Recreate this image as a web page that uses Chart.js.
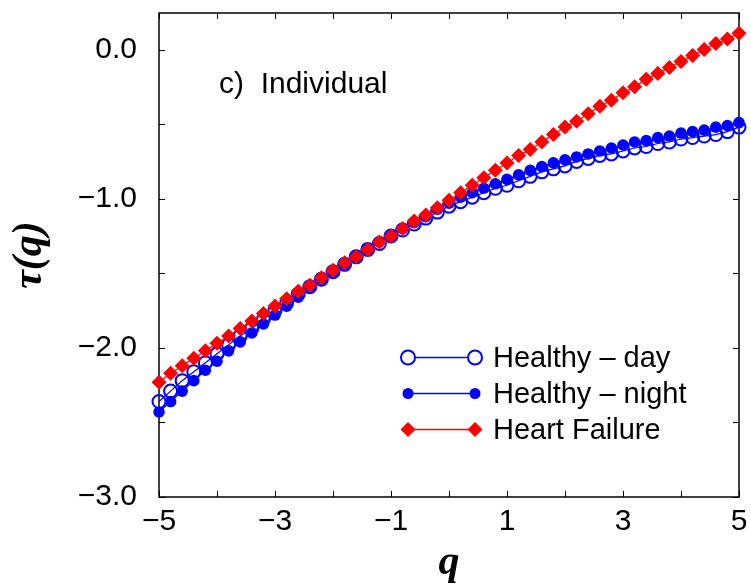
<!DOCTYPE html>
<html>
<head>
<meta charset="utf-8">
<script src="https://cdn.jsdelivr.net/npm/chart.js@4.4.1/dist/chart.umd.min.js"></script>
<style>
html, body { margin: 0; padding: 0; background: #fff; }
#wrap { width: 751px; height: 588px; }
</style>
</head>
<body>
<div id="wrap"><canvas id="tauChart" width="751" height="588"></canvas></div>
<script>
// q moments
const qValues = [-5, -4.8, -4.6, -4.4, -4.2, -4, -3.8, -3.6, -3.4, -3.2,
    -3, -2.8, -2.6, -2.4, -2.2, -2, -1.8, -1.6, -1.4, -1.2,
    -1, -0.8, -0.6, -0.4, -0.2, 0, 0.2, 0.4, 0.6, 0.8,
    1, 1.2, 1.4, 1.6, 1.8, 2, 2.2, 2.4, 2.6, 2.8,
    3, 3.2, 3.4, 3.6, 3.8, 4, 4.2, 4.4, 4.6, 4.8, 5];

const healthyDay = [-2.36, -2.29, -2.22, -2.16, -2.10, -2.04, -1.98, -1.92, -1.87, -1.81,
    -1.75, -1.70, -1.64, -1.59, -1.54, -1.49, -1.44, -1.39, -1.34, -1.30,
    -1.25, -1.21, -1.17, -1.13, -1.09, -1.05, -1.02, -0.99, -0.96, -0.93,
    -0.91, -0.88, -0.85, -0.82, -0.80, -0.78, -0.75, -0.73, -0.71, -0.70,
    -0.68, -0.66, -0.65, -0.63, -0.62, -0.60, -0.59, -0.58, -0.57, -0.55, -0.52];

const healthyNight = [-2.43, -2.36, -2.29, -2.22, -2.15, -2.09, -2.02, -1.96, -1.90, -1.84,
    -1.78, -1.72, -1.66, -1.60, -1.54, -1.49, -1.44, -1.39, -1.34, -1.29,
    -1.25, -1.20, -1.16, -1.12, -1.07, -1.03, -0.99, -0.96, -0.93, -0.90,
    -0.87, -0.84, -0.81, -0.785, -0.76, -0.74, -0.72, -0.70, -0.68, -0.66,
    -0.64, -0.62, -0.61, -0.59, -0.58, -0.56, -0.55, -0.54, -0.52, -0.51, -0.49];

const heartFailure = [-2.23, -2.17, -2.12, -2.07, -2.02, -1.97, -1.92, -1.87, -1.82, -1.77,
    -1.72, -1.67, -1.62, -1.58, -1.53, -1.48, -1.43, -1.39, -1.34, -1.29,
    -1.25, -1.20, -1.15, -1.11, -1.06, -1.01, -0.96, -0.91, -0.86, -0.81,
    -0.76, -0.71, -0.67, -0.62, -0.57, -0.52, -0.48, -0.43, -0.38, -0.34,
    -0.29, -0.25, -0.20, -0.16, -0.12, -0.08, -0.04, 0.00, 0.04, 0.07, 0.11];

const seriesNames = ["Healthy \u2013 day", "Healthy \u2013 night", "Heart Failure"];
const xLabelTicks = [-5, -3, -1, 1, 3, 5];
const yLabelTicks = [-3, -2, -1, 0];

const BLUE = "#0000ff";
const RED = "#ff0000";
const SANS = "'Liberation Sans', Arial, sans-serif";
const SERIF = "'Liberation Serif', 'Times New Roman', serif";

function toPoints(values) {
    return qValues.map((q, i) => ({ x: q, y: values[i] }));
}

function minus(s) {
    return s.replace("-", "\u2212");
}

// box with inward ticks on all four sides
const frameTicks = {
    id: "frameTicks",
    beforeDatasetsDraw(chart) {
        const { ctx, chartArea: a, scales: { x, y } } = chart;
        ctx.save();
        ctx.strokeStyle = "#000";
        ctx.lineWidth = 1.5;
        ctx.strokeRect(a.left, a.top, a.right - a.left, a.bottom - a.top);
        ctx.lineWidth = 1;
        ctx.beginPath();
        x.ticks.forEach(t => {
            const px = Math.round(x.getPixelForValue(t.value)) + 0.5;
            ctx.moveTo(px, a.bottom); ctx.lineTo(px, a.bottom - 6);
            ctx.moveTo(px, a.top); ctx.lineTo(px, a.top + 6);
        });
        y.ticks.forEach(t => {
            const py = Math.round(y.getPixelForValue(t.value)) + 0.5;
            ctx.moveTo(a.left, py); ctx.lineTo(a.left + 6, py);
            ctx.moveTo(a.right, py); ctx.lineTo(a.right - 6, py);
        });
        ctx.stroke();
        ctx.restore();
    }
};

// panel label and the legend in the lower right
const panelLegend = {
    id: "panelLegend",
    afterDraw(chart) {
        const { ctx, chartArea: a } = chart;
        ctx.save();
        ctx.fillStyle = "#000";
        ctx.font = "30px " + SANS;
        ctx.textBaseline = "middle";
        ctx.textAlign = "left";
        ctx.fillText("c)  Individual", a.left + 60, 85);

        const rowY = [357.5, 393.5, 429.5];
        const x1 = 408, x2 = 475;
        chart.data.datasets.forEach((ds, i) => {
            const yy = rowY[i];
            ctx.strokeStyle = ds.borderColor;
            ctx.lineWidth = 1.6;
            ctx.beginPath();
            ctx.moveTo(x1, yy);
            ctx.lineTo(x2, yy);
            ctx.stroke();
            const opts = {
                pointStyle: ds.pointStyle,
                radius: ds.legendRadius,
                rotation: 0,
                borderWidth: ds.pointBorderWidth
            };
            ctx.lineWidth = ds.pointBorderWidth;
            ctx.strokeStyle = ds.pointBorderColor;
            ctx.fillStyle = ds.legendFill;
            Chart.helpers.drawPoint(ctx, opts, x1, yy);
            Chart.helpers.drawPoint(ctx, opts, x2, yy);
            ctx.fillStyle = "#000";
            ctx.font = "29px " + SANS;
            ctx.fillText(ds.label, 493, yy + 1);
        });
        ctx.restore();
    }
};

new Chart(document.getElementById("tauChart"), {
    type: "scatter",
    data: {
        datasets: [
            {
                label: seriesNames[0],
                data: toPoints(healthyDay),
                showLine: true,
                borderColor: BLUE,
                borderWidth: 1.2,
                pointStyle: "circle",
                pointRadius: 6.5,
                pointBackgroundColor: "rgba(0,0,0,0)",
                pointBorderColor: BLUE,
                pointBorderWidth: 2,
                legendRadius: 7,
                legendFill: "#fff",
                clip: false,
                order: 2
            },
            {
                label: seriesNames[1],
                data: toPoints(healthyNight),
                showLine: true,
                borderColor: BLUE,
                borderWidth: 1.2,
                pointStyle: "circle",
                pointRadius: 5.8,
                pointBackgroundColor: BLUE,
                pointBorderColor: BLUE,
                pointBorderWidth: 0,
                legendRadius: 5.5,
                legendFill: BLUE,
                clip: false,
                order: 1
            },
            {
                label: seriesNames[2],
                data: toPoints(heartFailure),
                showLine: true,
                borderColor: RED,
                borderWidth: 1.2,
                pointStyle: "rectRot",
                pointRadius: 7.5,
                pointBackgroundColor: RED,
                pointBorderColor: RED,
                pointBorderWidth: 0,
                legendRadius: 7.5,
                legendFill: RED,
                clip: false,
                order: 0
            }
        ]
    },
    options: {
        responsive: false,
        animation: false,
        layout: {
            padding: { left: 0, right: 12, top: 13, bottom: 0 }
        },
        plugins: {
            legend: { display: false },
            tooltip: { enabled: false }
        },
        elements: {
            line: { tension: 0 }
        },
        scales: {
            x: {
                type: "linear",
                min: -5,
                max: 5,
                grid: { display: false, drawTicks: false },
                border: { display: false },
                ticks: {
                    stepSize: 1,
                    padding: 7,
                    color: "#000",
                    font: { family: SANS, size: 30 },
                    maxRotation: 0,
                    autoSkip: false,
                    callback: v => xLabelTicks.includes(v) ? minus(String(v)) : ""
                },
                title: {
                    display: true,
                    text: "q",
                    color: "#000",
                    font: { family: SERIF, size: 42, style: "italic", weight: "bold" },
                    padding: { top: 0, bottom: 0 }
                },
                afterFit: s => { s.height = 91; s.paddingLeft = 0; s.paddingRight = 0; }
            },
            y: {
                type: "linear",
                min: -3,
                max: 0.245,
                grid: { display: false, drawTicks: false },
                border: { display: false },
                ticks: {
                    stepSize: 0.5,
                    includeBounds: false,
                    padding: 22,
                    color: "#000",
                    font: { family: SANS, size: 30 },
                    autoSkip: false,
                    callback: v => yLabelTicks.some(t => Math.abs(t - v) < 1e-9) ? minus(v.toFixed(1)) : ""
                },
                title: {
                    display: true,
                    text: "\u03c4(q)",
                    color: "#000",
                    font: { family: SERIF, size: 42, style: "italic", weight: "bold" },
                    padding: { top: 5, bottom: 0 }
                },
                afterFit: s => { s.width = 159; s.paddingTop = 0; s.paddingBottom = 0; }
            }
        }
    },
    plugins: [frameTicks, panelLegend]
});
</script>
</body>
</html>
